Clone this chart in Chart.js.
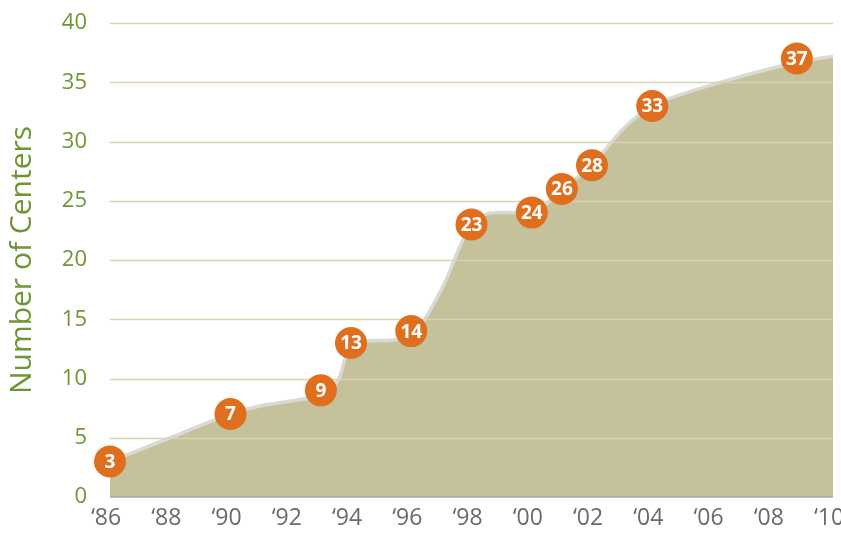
<!DOCTYPE html>
<html>
<head>
<meta charset="utf-8">
<script src="https://cdn.jsdelivr.net/npm/chart.js@4"></script>
<style>
  html, body { margin: 0; padding: 0; background: #fff; }
  #wrap { width: 841px; height: 535px; }
</style>
</head>
<body>
<div id="wrap"><canvas id="graficoCentros"></canvas></div>
<script>
// Datos
const anios = [1986, 1988, 1990, 1991, 1992, 1993, 1993.6, 1994, 1995, 1996, 1997, 1998, 1999, 2000, 2001, 2002, 2003, 2004, 2005, 2006, 2008, 2009, 2010];
const centros = [3, 5, 7, 7.7, 8.1, 8.7, 10, 13, 13.2, 13.7, 17.5, 23, 24, 24, 26, 28, 31, 33, 34, 34.8, 36.2, 36.8, 37.2];

// Puntos etiquetados
const aniosMarca = [1986, 1990, 1993, 1994, 1996, 1998, 2000, 2001, 2002, 2004, 2008.8];
const valoresMarca = [3, 7, 9, 13, 14, 23, 24, 26, 28, 33, 37];

const ticksY = [0, 5, 10, 15, 20, 25, 30, 35, 40];

const verde = '#6e9632';
const naranja = '#df6f1f';

// Lineas de la cuadricula encima del area
const pluginRejilla = {
    id: 'rejilla',
    afterDatasetDraw(chart, args) {
        if (args.index !== 1) return;
        const {ctx, chartArea, scales} = chart;
        ctx.save();
        ctx.lineWidth = 1.5;
        ticksY.forEach(v => {
            if (v === 0) return;
            const y = Math.round(scales.y.getPixelForValue(v)) + 0.5;
            ctx.strokeStyle = '#d6d3b6';
            ctx.beginPath();
            ctx.moveTo(chartArea.left, y);
            ctx.lineTo(chartArea.right, y);
            ctx.stroke();
        });
        const y0 = scales.y.getPixelForValue(0);
        ctx.strokeStyle = '#a8a8a0';
        ctx.lineWidth = 1.5;
        ctx.beginPath();
        ctx.moveTo(chartArea.left, y0);
        ctx.lineTo(chartArea.right, y0);
        ctx.stroke();
        ctx.restore();
    },
    afterDatasetsDraw(chart) {
        const {ctx} = chart;
        const meta = chart.getDatasetMeta(0);
        ctx.save();
        ctx.fillStyle = '#fff';
        ctx.font = 'bold 19px "Open Sans"';
        ctx.textAlign = 'center';
        ctx.textBaseline = 'middle';
        meta.data.forEach((pt, i) => {
            ctx.fillText(String(valoresMarca[i]), pt.x, pt.y + 1);
        });
        ctx.restore();
    }
};

const dataCentros = {
    datasets: [{
        type: 'scatter',
        data: aniosMarca.map((a, i) => ({x: a, y: valoresMarca[i]})),
        backgroundColor: naranja,
        borderWidth: 0,
        pointRadius: 16,
        pointHoverRadius: 16,
        clip: false
    }, {
        type: 'line',
        data: anios.map((a, i) => ({x: a, y: centros[i]})),
        borderColor: '#d9d9d6',
        borderWidth: 3.5,
        backgroundColor: '#c4c19b',
        fill: 'origin',
        pointRadius: 0,
        cubicInterpolationMode: 'monotone'
    }]
};

const configCentros = {
    data: dataCentros,
    options: {
        responsive: true,
        maintainAspectRatio: false,
        animation: false,
        layout: {
            autoPadding: false,
            padding: {top: 23, right: 8, left: 0, bottom: 0}
        },
        plugins: {
            legend: {display: false},
            tooltip: {enabled: false}
        },
        scales: {
            x: {
                type: 'linear',
                min: 1986,
                max: 2010,
                afterFit(scale) {
                    scale.height = 38;
                    scale.paddingLeft = 0;
                    scale.paddingRight = 0;
                },
                grid: {display: false, drawTicks: false},
                border: {display: false},
                ticks: {
                    stepSize: 2,
                    padding: 8,
                    labelOffset: -4,
                    color: '#6a6a6a',
                    font: {family: 'Open Sans', size: 23},
                    callback: v => '\u2018' + String(v).slice(2)
                }
            },
            y: {
                min: 0,
                max: 40,
                afterFit(scale) {
                    scale.width = 110;
                    scale.paddingTop = 0;
                    scale.paddingBottom = 0;
                },
                grid: {display: false, drawTicks: false},
                border: {display: false},
                ticks: {
                    stepSize: 5,
                    padding: 23,
                    color: verde,
                    font: {family: 'Open Sans', size: 22}
                },
                title: {
                    display: true,
                    text: 'Number of Centers',
                    color: verde,
                    font: {family: 'Open Sans', size: 30},
                    padding: {top: 4, bottom: 0}
                }
            }
        }
    },
    plugins: [pluginRejilla]
};

new Chart(document.querySelector('#graficoCentros'), configCentros);
</script>
</body>
</html>
